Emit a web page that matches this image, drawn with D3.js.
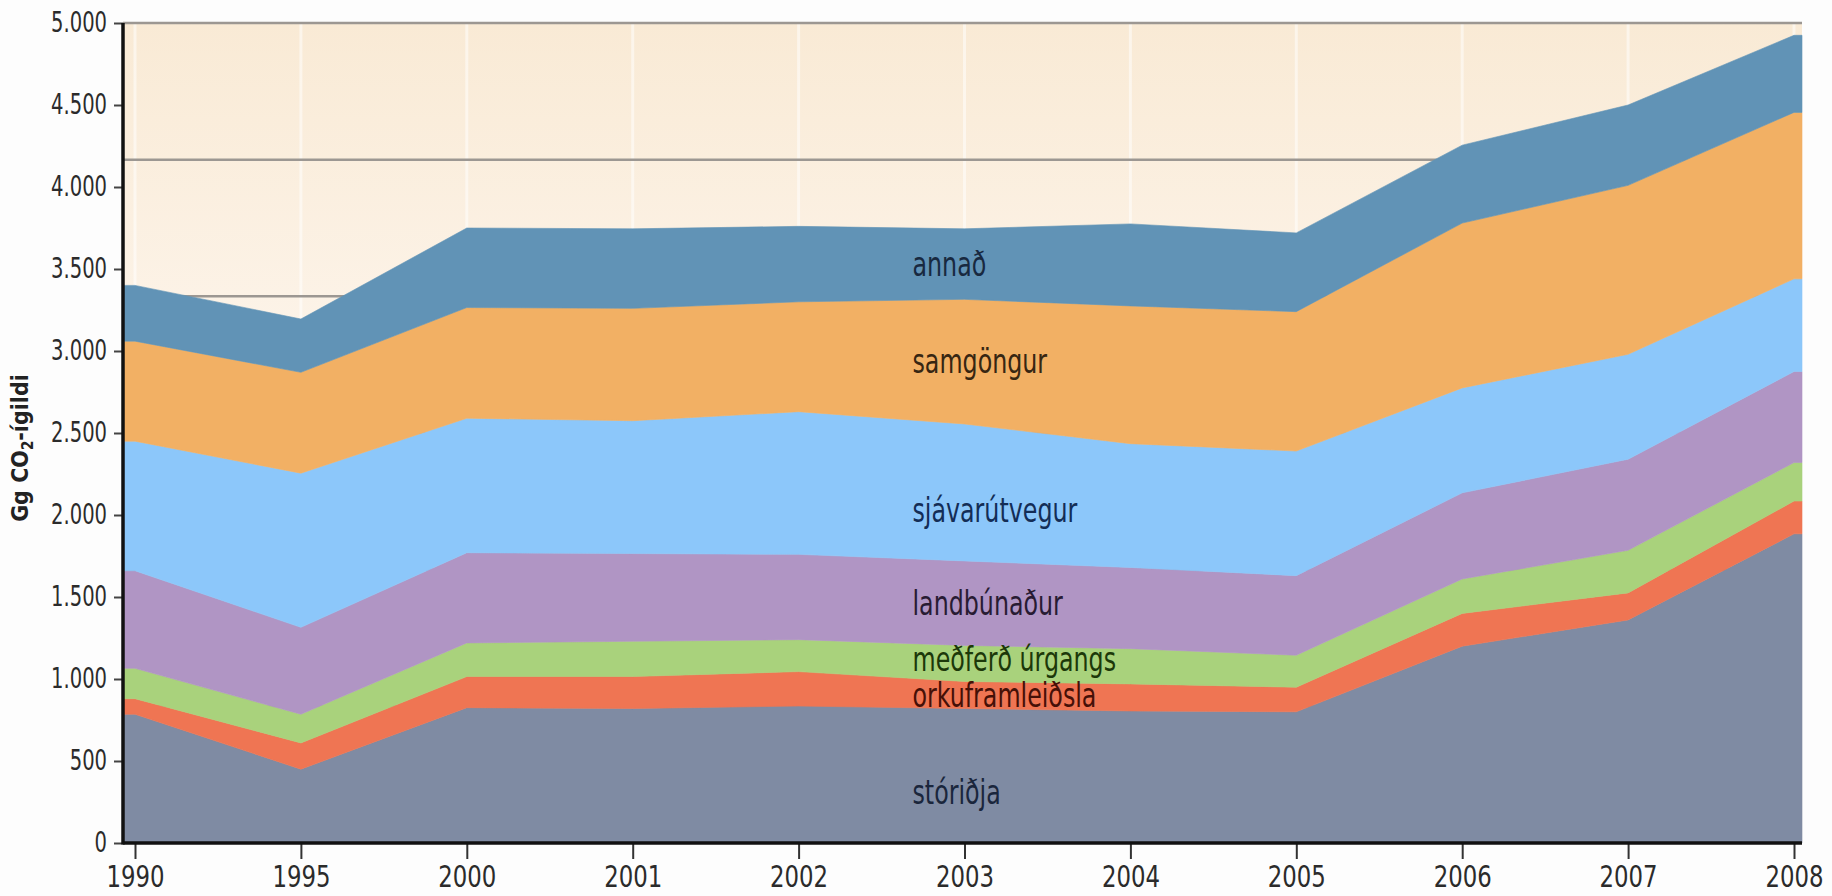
<!DOCTYPE html>
<html>
<head>
<meta charset="utf-8">
<script src="https://cdn.jsdelivr.net/npm/d3@7/dist/d3.min.js"></script>
<style>
    body { margin: 0; background: #fdfdfd; }
    text { font-family: "DejaVu Sans Condensed", "DejaVu Sans", sans-serif; font-stretch: condensed; }
</style>
</head>
<body>
<svg id="chart" width="1832" height="896"></svg>
<script>
// data (Gg CO2-igildi)
var years = ["1990", "1995", "2000", "2001", "2002", "2003", "2004", "2005", "2006", "2007", "2008"];
var storidja        = [785, 450, 825, 820, 835, 820, 805, 800, 1200, 1360, 1885];
var orkuframleidsla = [95, 160, 190, 195, 210, 165, 165, 150, 200, 165, 200];
var medferdUrgangs  = [185, 175, 205, 215, 195, 220, 215, 195, 210, 260, 235];
var landbunadur     = [595, 530, 550, 535, 520, 515, 495, 485, 525, 555, 555];
var sjavarutvegur   = [790, 940, 820, 810, 870, 835, 755, 760, 640, 640, 565];
var samgongur       = [610, 615, 675, 685, 670, 760, 840, 850, 1005, 1030, 1015];
var annad           = [340, 325, 485, 485, 460, 430, 500, 480, 475, 490, 470];

var seriesKeys   = ["storidja", "orku", "medferd", "landbun", "sjavar", "samg", "annad"];
var seriesLabels = ["stóriðja", "orkuframleiðsla", "meðferð úrgangs", "landbúnaður", "sjávarútvegur", "samgöngur", "annað"];
var yTicks = [0, 500, 1000, 1500, 2000, 2500, 3000, 3500, 4000, 4500, 5000];

// styles
var fills     = { storidja: "#7f8ba3", orku: "#ef7553", medferd: "#a9d27c", landbun: "#b095c4", sjavar: "#8cc7fa", samg: "#f2b064", annad: "#6193b6" };
var textFills = { storidja: "#1a263c", orku: "#461007", medferd: "#1c3809", landbun: "#281b33", sjavar: "#132d56", samg: "#372612", annad: "#182940" };
var labelShift = { sjavar: 18, storidja: 17, medferd: -4 };

var plotLeft = 123, plotRight = 1802, plotTop = 23, plotBottom = 843;

var svg = d3.select("#chart");

// squeeze text horizontally, the original uses a narrow face
function narrow(sel, k) {
    sel.each(function () {
        var t = d3.select(this);
        var x0 = +(t.attr("x") || 0);
        t.attr("x", x0 / k).attr("transform", "scale(" + k + ",1)");
    });
}

var rows = years.map(function (yr, i) {
    return {
        year: yr,
        storidja: storidja[i],
        orku: orkuframleidsla[i],
        medferd: medferdUrgangs[i],
        landbun: landbunadur[i],
        sjavar: sjavarutvegur[i],
        samg: samgongur[i],
        annad: annad[i]
    };
});

var x = d3.scalePoint().domain(years).range([135, 1794]);
var y = d3.scaleLinear().domain([0, 5000]).range([plotBottom, plotTop]);

var layers = d3.stack().keys(seriesKeys)(rows);

// background
var defs = svg.append("defs");
var grad = defs.append("linearGradient").attr("id", "bg").attr("x1", 0).attr("y1", 0).attr("x2", 0).attr("y2", 1);
grad.append("stop").attr("offset", "0%").attr("stop-color", "#f9ead5");
grad.append("stop").attr("offset", "45%").attr("stop-color", "#fdf5ec");
grad.append("stop").attr("offset", "100%").attr("stop-color", "#fefaf5");

svg.append("rect")
    .attr("x", plotLeft).attr("y", plotTop)
    .attr("width", plotRight - plotLeft).attr("height", plotBottom - plotTop)
    .attr("fill", "url(#bg)");

svg.append("g").selectAll("line")
    .data(years)
    .enter().append("line")
    .attr("x1", function (d) { return x(d); })
    .attr("x2", function (d) { return x(d); })
    .attr("y1", plotTop).attr("y2", plotBottom)
    .attr("stroke", "#ffffff")
    .attr("stroke-opacity", 0.5)
    .attr("stroke-width", 3);

// grid lines at sixths of the range
svg.append("g").selectAll("line")
    .data(d3.range(1, 7).map(function (k) { return 5000 * k / 6; }))
    .enter().append("line")
    .attr("x1", plotLeft).attr("x2", plotRight)
    .attr("y1", function (d) { return y(d); })
    .attr("y2", function (d) { return y(d); })
    .attr("stroke", "#9c9792")
    .attr("stroke-width", 2.5);

// areas, stretched flat to the plot edges
var area = d3.area()
    .x(function (d) { return d.px; })
    .y0(function (d) { return y(d.v0); })
    .y1(function (d) { return y(d.v1); });

function layerPoints(layer) {
    var pts = layer.map(function (d) {
        return { px: x(d.data.year), v0: d[0], v1: d[1] };
    });
    var first = pts[0], last = pts[pts.length - 1];
    return [{ px: plotLeft, v0: first.v0, v1: first.v1 }].concat(pts, [{ px: plotRight, v0: last.v0, v1: last.v1 }]);
}

svg.append("g").selectAll("path")
    .data(layers)
    .enter().append("path")
    .attr("d", function (d) { return area(layerPoints(d)); })
    .attr("fill", function (d) { return fills[d.key]; })
    .attr("stroke", function (d) { return fills[d.key]; })
    .attr("stroke-width", 0.6);

// series labels, placed at the middle of each band in 2003
var labelYear = years.indexOf("2003");
var seriesText = svg.append("g").selectAll("text")
    .data(layers)
    .enter().append("text")
    .attr("x", x("2003") - 52)
    .attr("y", function (d) {
        var p = d[labelYear];
        return y((p[0] + p[1]) / 2) + (labelShift[d.key] || 0);
    })
    .attr("dy", "0.35em")
    .attr("font-size", 33)
    .attr("fill", function (d) { return textFills[d.key]; })
    .text(function (d, i) { return seriesLabels[i]; });
narrow(seriesText, 0.8);

// axes
var isFormat = d3.formatLocale({ decimal: ",", thousands: ".", grouping: [3], currency: ["", " kr."] }).format(",d");

var yAxis = svg.append("g")
    .attr("transform", "translate(" + plotLeft + ",0)")
    .call(d3.axisLeft(y).tickValues(yTicks).tickSize(9).tickPadding(7).tickFormat(isFormat));
yAxis.attr("font-family", null).attr("font-size", null);
yAxis.select(".domain").remove();
yAxis.selectAll(".tick line").attr("stroke", "#444").attr("stroke-width", 2);
yAxis.selectAll(".tick text").attr("font-size", 27.5).attr("fill", "#2b2b2b").attr("text-anchor", "end");
narrow(yAxis.selectAll(".tick text"), 0.79);

var xAxis = svg.append("g")
    .attr("transform", "translate(0," + plotBottom + ")")
    .call(d3.axisBottom(x).tickSize(16).tickPadding(7));
xAxis.attr("font-family", null).attr("font-size", null);
xAxis.select(".domain").remove();
xAxis.selectAll(".tick line").attr("stroke", "#333").attr("stroke-width", 2);
xAxis.selectAll(".tick text").attr("font-size", 30).attr("fill", "#2b2b2b");
narrow(xAxis.selectAll(".tick text"), 0.845);

svg.append("line")
    .attr("x1", plotLeft).attr("x2", plotLeft)
    .attr("y1", plotTop).attr("y2", plotBottom + 1.5)
    .attr("stroke", "#111").attr("stroke-width", 3.5);
svg.append("line")
    .attr("x1", plotLeft).attr("x2", plotRight)
    .attr("y1", plotBottom).attr("y2", plotBottom)
    .attr("stroke", "#111").attr("stroke-width", 3.5);

// y label
var yl = svg.append("text")
    .attr("transform", "translate(28," + ((plotTop + plotBottom) / 2 + 15) + ") rotate(-90)")
    .attr("text-anchor", "middle")
    .attr("font-size", 23)
    .attr("font-weight", "bold")
    .attr("fill", "#222");
yl.append("tspan").text("Gg CO");
yl.append("tspan").attr("font-size", 15).attr("dy", 5).text("2");
yl.append("tspan").attr("dy", -5).text("-ígildi");
</script>
</body>
</html>
